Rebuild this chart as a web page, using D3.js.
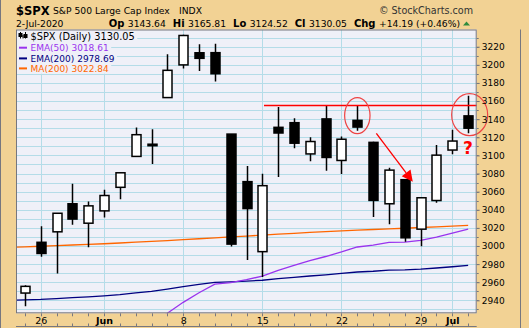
<!DOCTYPE html>
<html>
<head>
<meta charset="utf-8">
<script src="https://cdn.jsdelivr.net/npm/d3@7"></script>
<style>
  body { margin: 0; background: #fff; }
  svg { display: block; }
  text { font-family: "DejaVu Sans", Verdana, sans-serif; }
</style>
</head>
<body>
<svg width="529" height="328"></svg>
<script>
// trading days, May 21 (just off the left edge) to Jul 2, 2020
const dates = ["2020-05-21","2020-05-22","2020-05-26","2020-05-27","2020-05-28","2020-05-29",
  "2020-06-01","2020-06-02","2020-06-03","2020-06-04","2020-06-05","2020-06-08","2020-06-09",
  "2020-06-10","2020-06-11","2020-06-12","2020-06-15","2020-06-16","2020-06-17","2020-06-18",
  "2020-06-19","2020-06-22","2020-06-23","2020-06-24","2020-06-25","2020-06-26","2020-06-29",
  "2020-06-30","2020-07-01","2020-07-02"];
const open  = [2969.95,2948.05,3004.08,3015.65,3046.61,3025.17,3038.78,3064.78,3098.90,3111.56,
  3163.84,3199.92,3213.32,3213.42,3123.53,3071.04,2993.76,3131.00,3136.13,3101.64,3140.29,3094.42,
  3138.70,3114.40,3046.60,3073.20,3018.59,3050.20,3105.92,3143.64];
const high  = [2978.50,2956.76,3021.72,3036.25,3068.67,3049.17,3062.18,3081.07,3130.94,3128.91,
  3211.72,3233.13,3222.71,3223.27,3123.53,3088.42,3079.76,3153.45,3141.16,3120.00,3155.53,3120.92,
  3154.90,3115.01,3086.25,3073.73,3053.89,3111.51,3128.44,3165.81];
const low   = [2938.57,2933.59,2988.17,2969.75,3023.40,2998.61,3031.54,3051.64,3098.90,3090.41,
  3163.84,3196.00,3193.11,3181.49,2999.49,2984.47,2965.66,3076.06,3108.03,3093.51,3083.11,3079.39,
  3127.12,3032.13,3024.01,3004.63,2999.74,3047.83,3101.17,3124.52];
const close = [2948.51,2955.45,2991.77,3036.13,3029.73,3044.31,3055.73,3080.82,3122.87,3112.35,
  3193.93,3232.39,3207.18,3190.14,3002.10,3041.31,3066.59,3124.74,3113.49,3115.34,3097.74,3117.86,
  3131.29,3050.33,3083.76,3009.05,3053.24,3100.29,3115.86,3130.05];

const ema50  = [null,null,null,null,null,null,null,null,null,2914.8,2925.8,2937.8,2948.4,2957.8,
  2959.6,2962.8,2966.8,2973.0,2978.5,2983.9,2988.4,2993.4,2998.9,3000.9,3004.1,3004.3,3006.2,
  3009.9,3014.1,3018.61];
const ema200 = [2940.2,2940.5,2941.0,2942.0,2942.9,2943.9,2945.0,2946.4,2948.2,2949.8,2952.3,
  2955.1,2957.6,2959.9,2960.4,2961.2,2962.2,2963.9,2965.4,2966.9,2968.2,2969.7,2971.3,2972.1,
  2973.3,2973.6,2974.4,2975.7,2977.1,2978.69];
const ma200  = [2998.5,2999.1,2999.7,3000.4,3001.1,3001.8,3002.5,3003.3,3004.2,3005.1,3006.0,
  3007.0,3008.0,3009.0,3010.0,3011.0,3012.0,3013.0,3014.0,3015.0,3015.9,3016.7,3017.5,3018.2,
  3018.9,3019.6,3020.4,3021.2,3022.0,3022.84];

const tickDates  = ["2020-05-26","2020-06-01","2020-06-08","2020-06-15","2020-06-22","2020-06-29","2020-07-01"];
const tickLabels = ["26","Jun","8","15","22","29","Jul"];
const boldTicks  = ["Jun","Jul"];
const yLabels = [2940,2960,2980,3000,3020,3040,3060,3080,3100,3120,3140,3160,3180,3200,3220];

const resistance = 3155.2;

const svg = d3.select("svg");
const W = 529, H = 328;
const pL = 16, pR = 476.7, pT = 29.5, pB = 313.3;
const tan = "#F2D294", plotBg = "#EFF0F8", grid = "#B4DCE8", frame = "#77777F";

const x = d3.scaleLinear().domain([0.44, 29.54]).range([pL, pR]);
const y = d3.scaleLinear().domain([2925.7, 3239]).range([pB, pT]);
const idx = d => dates.indexOf(d);

// background
svg.append("rect").attr("width", W).attr("height", H).attr("fill", tan);
svg.append("line").attr("x1", 0.5).attr("x2", 0.5).attr("y1", 0).attr("y2", H).attr("stroke", frame);
svg.append("line").attr("x1", 520.5).attr("x2", 520.5).attr("y1", pT).attr("y2", H).attr("stroke", frame);
svg.append("rect").attr("x", pL).attr("y", pT).attr("width", pR - pL).attr("height", pB - pT)
  .attr("fill", plotBg);

svg.append("clipPath").attr("id", "plot")
  .append("rect").attr("x", pL).attr("y", pT).attr("width", pR - pL).attr("height", pB - pT);

// grid
const g = svg.append("g").attr("clip-path", "url(#plot)");
g.selectAll(".hg").data(d3.range(2930, 3240, 10)).enter().append("line")
  .attr("x1", pL).attr("x2", pR)
  .attr("y1", d => Math.round(y(d)) + 0.5).attr("y2", d => Math.round(y(d)) + 0.5)
  .attr("stroke", grid).attr("stroke-width", 1);
g.selectAll(".vg").data(tickDates).enter().append("line")
  .attr("x1", d => Math.round(x(idx(d))) + 0.5).attr("x2", d => Math.round(x(idx(d))) + 0.5)
  .attr("y1", pT).attr("y2", pB)
  .attr("stroke", grid).attr("stroke-width", 1);

// moving averages
const lineGen = arr => d3.line()
  .defined(d => d != null)
  .x((d, i) => x(i)).y(d => y(d))(arr);
g.append("path").attr("d", lineGen(ma200)).attr("fill", "none").attr("stroke", "#FF6600").attr("stroke-width", 1.3);
g.append("path").attr("d", lineGen(ema200)).attr("fill", "none").attr("stroke", "#000080").attr("stroke-width", 1.3);
g.append("path").attr("d", lineGen(ema50)).attr("fill", "none").attr("stroke", "#9933EE").attr("stroke-width", 1.3);

// candles
const bw = 9;
const candles = g.selectAll(".c").data(dates).enter().append("g");
candles.append("line")
  .attr("x1", (d, i) => Math.round(x(i)) + 0.5).attr("x2", (d, i) => Math.round(x(i)) + 0.5)
  .attr("y1", (d, i) => y(high[i])).attr("y2", (d, i) => y(low[i]))
  .attr("stroke", "#000").attr("stroke-width", 1.5);
candles.append("rect")
  .attr("x", (d, i) => Math.round(x(i)) + 0.5 - bw / 2)
  .attr("y", (d, i) => y(Math.max(open[i], close[i])))
  .attr("width", bw)
  .attr("height", (d, i) => Math.max(1.5, Math.abs(y(open[i]) - y(close[i]))))
  .attr("fill", (d, i) => close[i] >= open[i] ? "#fff" : "#000")
  .attr("stroke", "#000").attr("stroke-width", 1.5);

// annotations
const red = "#FF0000";
svg.append("line")
  .attr("x1", 264).attr("x2", pR)
  .attr("y1", y(resistance)).attr("y2", y(resistance))
  .attr("stroke", red).attr("stroke-width", 1.5);
svg.append("ellipse")
  .attr("cx", x(idx("2020-06-23"))).attr("cy", y(3144)).attr("rx", 12.7).attr("ry", 18)
  .attr("fill", "none").attr("stroke", "#EE4444").attr("stroke-width", 1.2);
svg.append("ellipse")
  .attr("cx", x(idx("2020-07-02")) + 1.5).attr("cy", y(3145)).attr("rx", 18).attr("ry", 21)
  .attr("fill", "none").attr("stroke", "#EE4444").attr("stroke-width", 1.2);

const ax0 = x(23.2), ay0 = y(3124.4), ax1 = x(25.5), ay1 = y(3071);
const ang = Math.atan2(ay1 - ay0, ax1 - ax0);
const hl = 11, hw = 5.5;
const bx = ax1 - hl * Math.cos(ang), by = ay1 - hl * Math.sin(ang);
svg.append("line").attr("x1", ax0).attr("y1", ay0).attr("x2", bx).attr("y2", by)
  .attr("stroke", red).attr("stroke-width", 1.3);
svg.append("path")
  .attr("d", `M${ax1},${ay1}L${bx + hw * Math.sin(ang)},${by - hw * Math.cos(ang)}L${bx - hw * Math.sin(ang)},${by + hw * Math.cos(ang)}Z`)
  .attr("fill", red);
svg.append("text").attr("x", 468).attr("y", 153.5).attr("text-anchor", "middle")
  .attr("font-size", 17).attr("font-weight", "bold").attr("fill", red).text("?");

// plot frame
svg.append("rect").attr("x", pL + 0.5).attr("y", pT + 0.5)
  .attr("width", pR - pL - 1).attr("height", pB - pT - 1)
  .attr("fill", "none").attr("stroke", frame);

// right axis
const yAxis = svg.append("g").attr("transform", `translate(${pR},0)`)
  .call(d3.axisRight(y).tickValues(yLabels).tickSize(3).tickPadding(2).tickFormat(d3.format("d")));
yAxis.select(".domain").remove();
yAxis.selectAll("text").attr("font-size", 9).attr("fill", "#000").attr("font-family", "DejaVu Sans");
yAxis.selectAll("line").attr("stroke", frame);
svg.append("g").selectAll("line").data(d3.range(2930, 3240, 10)).enter().append("line")
  .attr("x1", pR).attr("x2", pR + 2)
  .attr("y1", d => Math.round(y(d)) + 0.5).attr("y2", d => Math.round(y(d)) + 0.5)
  .attr("stroke", frame);

// bottom axis
const xg = svg.append("g");
xg.append("line").attr("x1", pL).attr("x2", pR).attr("y1", 326.5).attr("y2", 326.5).attr("stroke", frame);
xg.selectAll(".t1").data(dates.slice(1)).enter().append("line")
  .attr("x1", d => Math.round(x(idx(d))) + 0.5).attr("x2", d => Math.round(x(idx(d))) + 0.5)
  .attr("y1", pB).attr("y2", pB + 3).attr("stroke", frame);
xg.selectAll(".t2").data(dates.slice(1)).enter().append("line")
  .attr("x1", d => Math.round(x(idx(d))) + 0.5).attr("x2", d => Math.round(x(idx(d))) + 0.5)
  .attr("y1", 326.5).attr("y2", 323.5).attr("stroke", frame);
xg.selectAll("text").data(tickDates).enter().append("text")
  .attr("x", d => x(idx(d)) + 0.5).attr("y", 323.5).attr("text-anchor", "middle")
  .attr("font-size", 9.5)
  .attr("font-weight", (d, i) => boldTicks.includes(tickLabels[i]) ? "bold" : "normal")
  .text((d, i) => tickLabels[i]);

// header
svg.append("text").attr("x", 16).attr("y", 15).attr("font-size", 11.5).attr("font-weight", "bold").text("$SPX");
svg.append("text").attr("x", 53).attr("y", 13.5).attr("font-size", 9.2).text("S&P 500 Large Cap Index");
svg.append("text").attr("x", 179).attr("y", 13.5).attr("font-size", 9.2).text("INDX");
svg.append("text").attr("x", 473).attr("y", 14).attr("text-anchor", "end").attr("font-size", 9.6)
  .attr("fill", "#333").attr("font-family", "Open Sans").text("\u00A9 StockCharts.com");
svg.append("text").attr("x", 16).attr("y", 26.7).attr("font-size", 9.2).text("2-Jul-2020");

const quote = [["Op", "3143.64"], ["Hi", "3165.81"], ["Lo", "3124.52"], ["Cl", "3130.05"], ["Chg", "+14.19 (+0.46%)"]];
const qt = svg.append("text").attr("x", 460).attr("y", 26.7).attr("text-anchor", "end").attr("font-size", 9.2)
  .style("white-space", "pre");
quote.forEach((q, i) => {
  qt.append("tspan").attr("font-weight", "bold").attr("font-size", 10).text((i ? "  " : "") + q[0] + " ");
  qt.append("tspan").text(q[1]);
});
svg.append("path").attr("d", "M463,25.5L466.5,21.5L470,25.5Z").attr("fill", "#2E8B3E");

// legend
const legend = [
  { label: "$SPX (Daily) 3130.05", color: "#000", mono: true },
  { label: "EMA(50) 3018.61", color: "#9933EE" },
  { label: "EMA(200) 2978.69", color: "#000080" },
  { label: "MA(200) 3022.84", color: "#FF6600" }
];
const ly = [40, 51, 61.7, 71.7];
legend.forEach((l, i) => {
  const t = svg.append("text").attr("x", 30.5).attr("y", ly[i])
    .attr("font-size", l.mono ? 9.8 : 9)
    .attr("font-family", l.mono ? "DejaVu Sans Mono" : "DejaVu Sans")
    .attr("fill", l.color).text(l.label);
  const len = t.node().getComputedTextLength();
  svg.insert("rect", () => t.node()).attr("x", 17).attr("y", ly[i] - 8.5)
    .attr("width", len + 16).attr("height", 10.5).attr("fill", plotBg);
  if (i > 0) {
    svg.append("line").attr("x1", 19).attr("x2", 27).attr("y1", ly[i] - 3.3).attr("y2", ly[i] - 3.3)
      .attr("stroke", l.color).attr("stroke-width", 2);
  }
});
// candlestick icon
const ic = svg.append("g").attr("stroke", "#000").attr("stroke-width", 1);
ic.append("line").attr("x1", 20.5).attr("x2", 20.5).attr("y1", 32).attr("y2", 38.5);
ic.append("rect").attr("x", 19).attr("y", 33.5).attr("width", 3).attr("height", 3).attr("fill", "#000");
ic.append("line").attr("x1", 25.5).attr("x2", 25.5).attr("y1", 32).attr("y2", 38.5);
ic.append("rect").attr("x", 24).attr("y", 34.5).attr("width", 3).attr("height", 3).attr("fill", "#000");
ic.append("line").attr("x1", 23).attr("x2", 23).attr("y1", 35).attr("y2", 38.5);
</script>
</body>
</html>
